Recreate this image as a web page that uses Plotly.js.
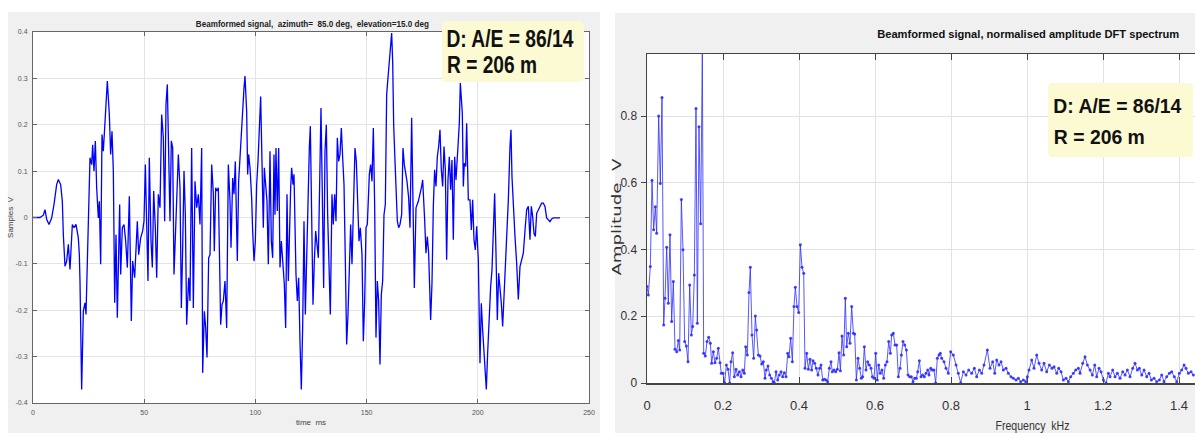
<!DOCTYPE html>
<html>
<head>
<meta charset="utf-8">
<script src="https://cdn.plot.ly/plotly-3.0.1.min.js"></script>
<style>html,body{margin:0;padding:0;background:#fff;}#chart{width:1195px;height:433px;}</style>
</head>
<body>
<div id="chart"></div>
<script>
// ---------- Left panel: beamformed time signal ----------
const timeMs = [0,3.15,4.65,5.40,6.15,7.19,8.39,9.44,10.64,11.39,12.44,12.89,13.19,13.64,14.39,15.14,15.89,16.64,17.69,18.44,19.33,20.38,20.83,21.13,21.88,22.63,23.38,23.83,24.73,25.63,26.38,26.83,27.43,28.03,28.63,29.38,29.83,30.43,31.03,31.62,32.22,33.12,33.42,34.32,34.92,35.52,36.12,36.72,37.32,37.92,38.52,38.97,39.42,40.17,40.92,41.67,42.42,43.32,44.21,44.81,45.71,46.31,46.91,47.51,48.41,49.31,49.91,50.51,51.11,51.71,52.31,53.06,53.66,54.26,55.01,55.61,56.35,57.10,57.85,58.60,59.20,59.80,60.40,61.00,61.60,62.20,62.80,63.40,64.00,64.60,65.35,66.10,66.70,67.30,67.90,68.50,69.09,69.99,70.59,71.34,72.09,72.84,73.59,74.34,75.09,75.84,76.29,77.04,77.64,78.24,78.99,79.59,80.34,81.09,81.53,82.13,82.73,83.33,83.78,84.38,84.98,85.58,86.33,87.08,87.83,88.58,89.03,89.78,90.37,90.97,91.57,91.87,92.47,93.07,93.67,94.27,94.87,95.32,96.07,96.52,96.97,97.57,98.32,98.77,99.37,99.97,100.57,101.17,101.77,102.37,102.96,103.56,104.01,104.61,105.21,105.81,106.56,107.16,107.76,108.36,108.81,109.26,109.86,110.46,111.06,111.66,112.26,113.01,113.61,114.21,114.81,115.26,115.86,116.30,116.90,117.35,118.25,118.85,119.45,120.05,120.65,121.25,121.85,122.45,123.05,123.65,124.25,124.70,125.30,125.90,126.50,127.10,127.70,128.30,128.89,129.49,130.09,130.69,131.29,131.89,132.49,133.09,133.69,134.44,135.04,135.64,136.24,136.84,137.44,138.04,138.64,139.24,139.84,140.44,141.03,141.63,142.23,142.83,143.43,144.03,144.78,145.38,145.98,146.58,147.18,147.93,148.53,149.13,149.73,150.33,151.23,151.83,152.43,153.03,153.62,154.22,154.82,155.42,156.02,156.62,157.22,157.82,158.42,159.02,159.62,160.22,160.82,161.27,161.72,162.17,162.77,163.22,163.82,164.42,165.01,165.76,166.36,166.96,167.56,168.16,168.91,169.51,170.26,170.86,171.46,172.21,173.26,174.76,175.21,176.10,176.70,177.30,177.90,178.80,179.40,180.00,180.60,181.20,181.80,182.40,183.00,183.60,184.20,184.80,185.40,185.99,186.59,187.19,187.79,188.39,188.99,189.59,190.19,191.09,191.69,192.14,192.59,193.04,193.49,193.94,194.54,194.99,195.74,196.49,197.09,197.69,198.29,198.89,199.49,200.24,200.98,201.58,202.18,202.78,203.38,203.83,204.43,205.03,205.78,206.38,206.98,207.58,208.18,208.78,209.38,209.98,210.58,211.18,212.08,212.98,213.73,214.47,214.92,215.37,215.97,216.72,217.47,218.22,218.97,219.72,220.47,221.37,221.97,222.72,223.47,224.07,224.67,225.27,225.87,226.47,227.21,227.96,228.71,229.46,230.21,230.96,231.71,232.46,233.21,233.96,236.96];
const samplesV = [0,0,0.005,0.017,-0.004,-0.015,-0.001,0.028,0.071,0.082,0.071,0.046,0.035,-0.037,-0.105,-0.094,-0.058,-0.112,-0.015,-0.022,-0.015,-0.044,-0.080,-0.137,-0.371,-0.202,-0.184,-0.209,-0.022,0.129,0.114,0.157,0.100,0.165,0.064,-0.001,0.035,-0.101,0.179,0.143,0.193,0.290,0.294,0.222,0.136,0.186,0.100,-0.184,-0.037,-0.216,-0.051,0.028,-0.123,-0.022,-0.015,-0.051,-0.108,0.046,-0.223,-0.094,-0.130,-0.058,-0.008,-0.080,-0.044,-0.029,-0.008,0.114,-0.051,-0.137,0.129,-0.051,-0.108,0.057,-0.022,-0.130,0.050,0.021,0.222,0.172,-0.008,0.244,0.287,0.107,-0.008,0.165,0.150,-0.123,-0.037,0.064,0.136,0.064,-0.195,-0.065,0.100,0.006,-0.231,-0.130,-0.180,0.150,-0.195,0.078,0.021,0.050,-0.015,0.150,-0.335,-0.202,-0.238,-0.302,-0.087,-0.080,0.114,0.050,-0.073,0.064,0.057,0.064,-0.058,-0.231,-0.188,-0.180,-0.137,-0.238,0.114,0.035,-0.065,0.085,0.050,0.121,-0.022,-0.094,0.078,0.136,0.165,0.229,0.279,0.305,0.229,0.093,0.136,0.107,0.042,-0.029,-0.094,-0.051,0.071,0.121,0.193,0.261,0.121,-0.022,0.107,0.078,0.035,-0.101,0.143,-0.051,-0.087,0.136,0.006,0.150,0.014,0.150,-0.108,-0.051,-0.094,-0.144,-0.238,0.050,-0.137,-0.037,0.064,0.107,0.071,0.093,-0.123,-0.180,-0.130,-0.267,-0.371,-0.238,-0.008,-0.209,-0.094,0.078,0.150,0.197,0.035,-0.188,-0.094,-0.029,-0.058,-0.087,0.071,0.236,0.050,-0.152,0.143,0.200,0.006,-0.094,-0.209,0.050,-0.015,0.050,-0.008,0.172,0.121,0.136,0.193,0.129,0.071,-0.094,-0.274,-0.209,-0.094,-0.015,-0.101,0.006,0.150,0.121,0.035,-0.051,-0.022,-0.080,-0.267,-0.180,-0.022,-0.015,0.093,0.114,0.078,0.193,0.028,-0.259,-0.137,-0.180,-0.317,-0.166,-0.137,0.006,0.028,0.265,0.301,0.337,0.366,0.398,0.337,0.200,0.121,0.064,-0.008,-0.022,-0.015,0.006,0.150,0.114,0.100,0.078,0.042,-0.022,0.215,0.006,-0.152,0.021,0.035,0.067,0.081,-0.005,-0.077,-0.041,-0.077,-0.221,-0.142,0.024,0.103,0.067,0.131,0.153,0.189,0.103,0.067,0.153,0.103,-0.091,0.081,0.131,0.060,0.124,-0.048,0.131,0.081,0.153,0.203,0.290,0.261,0.225,0.067,0.117,0.110,0.203,0.038,0.038,-0.027,0.038,-0.048,-0.070,-0.019,-0.091,-0.314,-0.185,-0.242,-0.292,-0.321,-0.371,-0.292,-0.221,-0.149,-0.113,-0.034,0.052,-0.077,-0.221,-0.120,-0.149,-0.185,-0.235,-0.149,-0.034,0.038,0.153,0.189,0.088,0.024,-0.041,-0.098,-0.177,-0.106,-0.091,-0.077,-0.019,0.017,0.024,-0.048,0.024,0.002,-0.034,-0.041,0.009,0.017,0.024,0.031,0.031,0.024,-0.001,-0.005,-0.009,-0.003,-0.001,-0.001];
const leftXTicks = [0,50,100,150,200,250];
const leftYTicks = [-0.4,-0.3,-0.2,-0.1,0,0.1,0.2,0.3,0.4];
const leftYTickText = ['-0.4','-0.3','-0.2','-0.1','0','0.1','0.2','0.3','0.4'];

// ---------- Right panel: normalised amplitude DFT spectrum ----------
const freqKHz = [0,0.0035,0.0088,0.0132,0.0175,0.0219,0.0254,0.0307,0.0351,0.0395,
0.0439,0.0474,0.0518,0.0561,0.0605,0.0649,0.0693,0.0737,0.0781,0.0825,
0.0860,0.0904,0.0947,0.0991,0.1035,0.1079,0.1123,0.1167,0.1202,0.1246,
0.1289,0.1325,0.1368,0.1412,0.1456,0.1491,0.1535,0.1579,0.1623,0.1667,
0.1702,0.1746,0.1789,0.1833,0.1877,0.1921,0.1956,0.2,0.2044,0.2088,
0.2132,0.2175,0.2211,0.2254,0.2298,0.2342,0.2386,0.2430,0.2474,0.2518,
0.2561,0.2596,0.2640,0.2684,0.2719,0.2763,0.2807,0.2851,0.2886,0.2930,
0.2974,0.3018,0.3061,0.3105,0.3140,0.3184,0.3228,0.3272,0.3316,0.3351,
0.3395,0.3439,0.3482,0.3526,0.3570,0.3614,0.3658,0.3702,0.3737,0.3781,
0.3825,0.3868,0.3904,0.3947,0.3991,0.4035,0.4079,0.4123,0.4158,0.4202,
0.4246,0.4289,0.4333,0.4368,0.4412,0.4456,0.4500,0.4544,0.4579,0.4623,
0.4667,0.4711,0.4754,0.4798,0.4842,0.4877,0.4921,0.4965,0.5009,0.5053,
0.5088,0.5132,0.5175,0.5219,0.5254,0.5298,0.5342,0.5386,0.5430,0.5465,
0.5509,0.5553,0.5596,0.5640,0.5675,0.5719,0.5763,0.5807,0.5851,0.5895,
0.5930,0.5974,0.6018,0.6061,0.6096,0.6140,0.6184,0.6228,0.6272,0.6316,
0.6360,0.6404,0.6439,0.6482,0.6526,0.6570,0.6614,0.6658,0.6693,0.6737,
0.6781,0.6825,0.6868,0.6912,0.6956,0.7,0.7044,0.7088,0.7123,0.7167,
0.7211,0.7254,0.7298,0.7342,0.7386,0.7421,0.7465,0.7509,0.7553,0.7596,
0.7640,0.7684,0.7719,
0.7754,0.7816,0.7868,0.7930,0.7991,0.8061,0.8132,0.8193,0.8254,0.8325,
0.8395,0.8465,0.8544,0.8614,0.8675,0.8746,0.8807,0.8868,0.8956,0.9026,
0.9096,0.9149,0.9202,0.9263,0.9316,0.9377,0.9447,0.9509,0.9579,0.9640,
0.9711,0.9772,0.9833,0.9904,0.9965,1.0009,1.0053,1.0123,1.0184,1.0254,
1.0316,1.0386,1.0447,1.0518,1.0588,1.0658,1.0711,1.0781,1.0833,1.0895,
1.0956,1.1026,1.1088,1.1149,1.1219,1.1281,1.1351,1.1395,1.1465,1.1526,
1.1588,1.1658,1.1719,1.1781,1.1833,1.1895,1.1947,1.2009,1.2079,1.2140,
1.2184,1.2254,1.2316,1.2377,1.2447,1.2518,1.2579,1.2640,1.2711,1.2781,
1.2842,1.2904,1.2956,1.3018,1.3079,1.3149,1.3211,1.3272,1.3342,1.3412,
1.3482,1.3544,1.3605,1.3675,1.3746,1.3807,1.3877,1.3939,1.4009,1.4070,
1.4132,1.4184,1.4246,1.4316,1.4377];
const amplitudeV = [0.289,0.264,0.349,0.608,0.459,0.528,0.449,0.800,0.598,0.856,
0.174,0.254,0.407,0.239,0.444,0.184,0.304,0.101,0.094,0.127,
0.099,0.550,0.399,0.124,0.111,0.064,0.294,0.144,0.169,0.324,
0.823,0.179,0.768,0.477,1.0,0.089,0.081,0.124,0.137,0.119,
0.059,0.094,0.061,0.074,0.104,0.061,0.029,0.029,0.0,0.054,
0.041,0.0,0.064,0.091,0.019,0.041,0.024,0.034,0.019,0.039,
0.029,0.109,0.084,0.271,0.347,0.144,0.074,0.201,0.159,0.084,
0.081,0.057,0.064,0.014,0.039,0.051,0.024,0.014,0.004,0.0,
0.034,0.009,0.024,0.034,0.019,0.031,0.019,0.089,0.079,0.134,
0.064,0.229,0.287,0.229,0.211,0.414,0.347,0.329,0.044,0.089,
0.041,0.071,0.039,0.067,0.059,0.044,0.024,0.044,0.054,0.009,
0.011,0.009,0.004,0.044,0.064,0.034,0.039,0.034,0.041,0.091,
0.037,0.141,0.084,0.254,0.109,0.149,0.119,0.229,0.149,0.147,
0.009,0.074,0.044,0.014,0.019,0.109,0.039,0.064,0.054,0.044,
0.019,0.014,0.089,0.009,0.054,0.029,0.039,0.014,0.054,0.064,
0.124,0.089,0.144,0.149,0.114,0.114,0.019,0.044,0.084,0.124,
0.114,0.099,0.024,0.019,0.019,0.004,0.014,0.014,0.034,0.067,
0.019,0.024,0.019,0.029,0.039,0.024,0.044,0.039,0.039,0.0,
0.074,0.084,0.089,
0.074,0.064,0.044,0.029,0.094,0.084,0.054,0.029,0.001,0.034,
0.024,0.039,0.029,0.044,0.019,0.039,0.029,0.054,0.099,0.044,
0.064,0.029,0.069,0.054,0.064,0.039,0.044,0.029,0.019,0.014,
0.009,0.014,0.004,0.009,0.004,0.019,0.039,0.069,0.044,0.084,
0.059,0.039,0.059,0.034,0.054,0.044,0.049,0.029,0.044,0.034,
0.009,0.014,0.004,0.019,0.029,0.039,0.044,0.029,0.059,0.079,
0.054,0.039,0.024,0.054,0.019,0.044,0.034,0.009,0.0,0.029,
0.019,0.039,0.019,0.029,0.014,0.034,0.024,0.039,0.019,0.044,
0.059,0.039,0.044,0.024,0.039,0.019,0.029,0.009,0.014,0.004,
0.009,0.024,0.004,0.019,0.029,0.034,0.019,0.004,0.029,0.039,
0.054,0.044,0.029,0.034,0.024];
const rightXTicks = [0,0.2,0.4,0.6,0.8,1,1.2,1.4];
const rightXTickText = ['0','0.2','0.4','0.6','0.8','1','1.2','1.4'];
const rightYTicks = [0,0.2,0.4,0.6,0.8];
const rightYTickText = ['0','0.2','0.4','0.6','0.8'];

const leftTitle = 'Beamformed signal,\u00a0 azimuth=\u00a0 85.0 deg,\u00a0 elevation=15.0 deg';
const rightTitle = 'Beamformed signal, normalised amplitude DFT spectrum';
const boxLine1 = 'D: A/E = 86/14';
const boxLine2 = 'R = 206 m';

// ---------- layout helpers (pixel -> paper) ----------
const W = 1195, H = 433;
const px = v => v / W;
const py = v => 1 - v / H;
function rectShape(x0, y0, x1, y1, color, layer) {
  return {type: 'rect', xref: 'paper', yref: 'paper', x0: px(x0), x1: px(x1), y0: py(y1), y1: py(y0),
          fillcolor: color, line: {width: 0}, layer: layer || 'below'};
}
function roundBox(x0, y0, x1, y1, r, color) {
  const P = (x, y) => px(x).toFixed(5) + ',' + py(y).toFixed(5);
  const d = 'M' + P(x0 + r, y0) + ' L' + P(x1 - r, y0) + ' Q' + P(x1, y0) + ' ' + P(x1, y0 + r) +
            ' L' + P(x1, y1 - r) + ' Q' + P(x1, y1) + ' ' + P(x1 - r, y1) +
            ' L' + P(x0 + r, y1) + ' Q' + P(x0, y1) + ' ' + P(x0, y1 - r) +
            ' L' + P(x0, y0 + r) + ' Q' + P(x0, y0) + ' ' + P(x0 + r, y0) + ' Z';
  return {type: 'path', xref: 'paper', yref: 'paper', path: d, fillcolor: color, line: {width: 0}, layer: 'above'};
}
function label(text, x, y, opts) {
  return Object.assign({text: text, xref: 'paper', yref: 'paper', x: px(x), y: py(y), showarrow: false,
                        xanchor: 'center', yanchor: 'middle'}, opts);
}

const SANS = '"Liberation Sans", Arial, sans-serif';
const boldFont = (s, c) => ({family: SANS, size: s, color: c || '#111', weight: 700});

const traces = [
  {x: timeMs, y: samplesV, xaxis: 'x', yaxis: 'y', type: 'scatter', mode: 'lines',
   line: {color: '#0000ff', width: 1.3}, hoverinfo: 'skip'},
  {x: freqKHz, y: amplitudeV, xaxis: 'x2', yaxis: 'y2', type: 'scatter', mode: 'lines+markers',
   line: {color: 'rgba(45,45,255,0.8)', width: 1}, marker: {color: 'rgba(45,45,255,0.9)', size: 3},
   cliponaxis: true, hoverinfo: 'skip'}
];

// annotations, with the pixel width each text is fitted to (condensed look of the original)
const annotations = [
  label(leftTitle, 312, 24, {font: boldFont(8.5, '#222')}),
  label(rightTitle, 1028, 34, {font: boldFont(11.5)}),
  label(boxLine1, 509.5, 39, {font: boldFont(23)}),
  label(boxLine2, 492, 65, {font: boldFont(23)}),
  label(boxLine1, 1117.5, 105, {font: boldFont(21)}),
  label(boxLine2, 1099.5, 136, {font: boldFont(21)}),
  label('Amplitude\u00a0 V', 616, 217, {textangle: -90, font: {family: 'DejaVu Sans', size: 13, color: '#333'}}),
  label('Frequency\u00a0 kHz', 1032, 425, {font: {family: SANS, size: 13, color: '#333'}})
];
const annFitWidth = [233, 302, 127, 90, 128, 91, 117, 74];

const layout = {
  width: W, height: H, margin: {l: 0, r: 0, t: 0, b: 0},
  paper_bgcolor: '#ffffff', plot_bgcolor: '#ffffff', showlegend: false,
  xaxis: {domain: [px(33), px(589)], anchor: 'y', range: [0, 250], tickvals: leftXTicks,
          ticks: 'inside', ticklen: 4, tickcolor: '#666', showline: true, linecolor: '#666', linewidth: 1,
          mirror: 'ticks', showgrid: true, gridcolor: '#e4e4e4', zeroline: false,
          tickfont: {family: SANS, size: 7, color: '#555'}, ticklabelstandoff: 3,
          title: {text: 'time\u00a0 ms', font: {family: SANS, size: 8, color: '#444'}, standoff: 3}},
  yaxis: {domain: [1 - 403 / H, 1 - 32 / H], anchor: 'x', range: [-0.4, 0.4], tickvals: leftYTicks, ticktext: leftYTickText,
          ticks: 'inside', ticklen: 4, tickcolor: '#666', showline: true, linecolor: '#666', linewidth: 1,
          mirror: 'ticks', showgrid: true, gridcolor: '#e4e4e4', zeroline: false,
          tickfont: {family: SANS, size: 7, color: '#555'}, ticklabelstandoff: 3,
          title: {text: 'Samples\u00a0 V', font: {family: SANS, size: 8, color: '#444'}, standoff: 0}},
  xaxis2: {domain: [px(647), 1], anchor: 'y2', range: [0, 1.442], tickvals: rightXTicks, ticktext: rightXTickText,
           ticks: 'inside', ticklen: 6, tickcolor: '#444', showline: true, linecolor: '#444', linewidth: 1.5,
           mirror: 'ticks', showgrid: true, gridcolor: '#e2e2e2', zeroline: false,
           tickfont: {family: SANS, size: 13, color: '#333'}, ticklabelstandoff: 10},
  yaxis2: {domain: [1 - 383 / H, 1 - 54 / H], anchor: 'x2', range: [0, 0.986], tickvals: rightYTicks, ticktext: rightYTickText,
           ticks: 'outside', ticklen: 5, tickcolor: '#444', showline: true, linecolor: '#444', linewidth: 1.5,
           mirror: false, showgrid: true, gridcolor: '#e2e2e2', zeroline: false,
           tickfont: {family: SANS, size: 12, color: '#333'}, ticklabelstandoff: 1},
  shapes: [
    rectShape(8, 12, 600, 433, '#f0f0f0'),
    rectShape(615, 13, 1195, 433, '#f0f0f0'),
    rectShape(33, 32, 589, 403, '#ffffff'),
    rectShape(647, 54, 1195, 383, '#ffffff'),
    roundBox(442, 21, 584, 82, 5, '#fcfad3'),
    roundBox(1048, 83, 1193, 157, 5, '#fcfad3')
  ],
  annotations: annotations
};

Plotly.newPlot('chart', traces, layout, {staticPlot: true, displayModeBar: false}).then(function () {
  document.querySelectorAll('#chart g.annotation').forEach(function (g) {
    const i = +g.getAttribute('data-index');
    const w = annFitWidth[i];
    if (!w) return;
    const t = g.querySelector('text.annotation-text');
    if (!t) return;
    t.setAttribute('textLength', w);
    t.setAttribute('lengthAdjust', 'spacingAndGlyphs');
    const r = g.querySelector('rect.bg');
    if (r) {
      const ow = parseFloat(r.getAttribute('width')) || 0;
      const ox = parseFloat(r.getAttribute('x')) || 0;
      const nw = w + 2;
      r.setAttribute('x', ox + (ow - nw) / 2);
      r.setAttribute('width', nw);
    }
  });
});
</script>
</body>
</html>
